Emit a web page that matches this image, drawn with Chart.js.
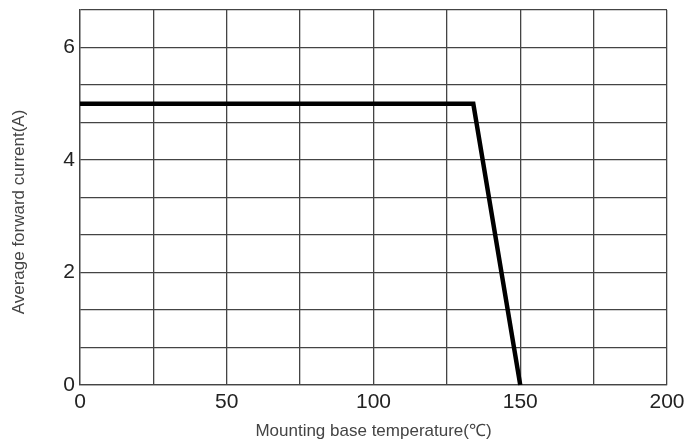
<!DOCTYPE html>
<html>
<head>
<meta charset="utf-8">
<script src="https://cdn.jsdelivr.net/npm/chart.js@4/dist/chart.umd.min.js"></script>
<style>
  html, body { margin: 0; padding: 0; background: #fff; }
  #wrap { width: 686px; height: 446px; position: relative; }
</style>
</head>
<body>
<div id="wrap"><canvas id="myChart"></canvas></div>
<script>
// derating curve: mounting base temperature vs average forward current
const temperature = [0, 134, 150];
const current = [5, 5, 0];

const xTickLabels = [0, 50, 100, 150, 200];
const yTickLabels = [0, 2, 4, 6];

const xTitle = 'Mounting base temperature(℃)';
const yTitle = 'Average forward current(A)';

const gridColor = '#444';
const fontFamily = '"Liberation Sans", Arial, sans-serif';

// y title drawn by hand, it sits a bit lower than the plot centre in the original
const yTitlePlugin = {
  id: 'yTitle',
  afterDraw(chart) {
    const ctx = chart.ctx;
    ctx.save();
    ctx.translate(19, 212);
    ctx.rotate(-Math.PI / 2);
    ctx.font = '17px ' + fontFamily;
    ctx.fillStyle = '#444';
    ctx.textAlign = 'center';
    ctx.textBaseline = 'middle';
    ctx.fillText(yTitle, 0, 0);
    ctx.restore();
  }
};

const points = temperature.map((t, i) => ({ x: t, y: current[i] }));

new Chart(document.getElementById('myChart'), {
  type: 'line',
  data: {
    datasets: [{
      data: points,
      borderColor: '#000',
      borderWidth: 4.5,
      pointRadius: 0,
      tension: 0,
      borderJoinStyle: 'miter',
      clip: false
    }]
  },
  options: {
    responsive: true,
    maintainAspectRatio: false,
    animation: false,
    layout: { padding: { top: 10, right: 19 } },
    plugins: {
      legend: { display: false },
      tooltip: { enabled: false }
    },
    scales: {
      x: {
        type: 'linear',
        min: 0,
        max: 200,
        ticks: {
          stepSize: 25,
          padding: 5,
          color: '#222',
          font: { family: fontFamily, size: 21 },
          maxRotation: 0,
          autoSkip: false,
          callback: (v) => xTickLabels.includes(v) ? String(v) : ''
        },
        grid: { color: gridColor, lineWidth: 1.3, drawTicks: false },
        border: { color: gridColor, width: 1.3 },
        title: {
          display: true,
          text: xTitle,
          color: '#444',
          font: { family: fontFamily, size: 17 },
          padding: { top: 0, bottom: 4 }
        },
        afterFit: (s) => {
          s.height = 61;
          s.paddingLeft = 0;
          s.paddingRight = 0;
        }
      },
      y: {
        type: 'linear',
        min: 0,
        max: 20 / 3,
        afterBuildTicks: (s) => {
          const t = [];
          for (let i = 0; i <= 10; i++) t.push({ value: i * 2 / 3 });
          s.ticks = t;
        },
        ticks: {
          padding: 5,
          color: '#222',
          font: { family: fontFamily, size: 21 },
          autoSkip: false,
          callback: (v) => {
            const r = Math.round(v);
            return Math.abs(v - r) < 1e-6 && yTickLabels.includes(r) ? String(r) : '';
          }
        },
        grid: { color: gridColor, lineWidth: 1.3, drawTicks: false },
        border: { color: gridColor, width: 1.3 },
        afterFit: (s) => {
          s.width = 80;
          s.paddingTop = 0;
          s.paddingBottom = 0;
        }
      }
    }
  },
  plugins: [yTitlePlugin]
});
</script>
</body>
</html>
